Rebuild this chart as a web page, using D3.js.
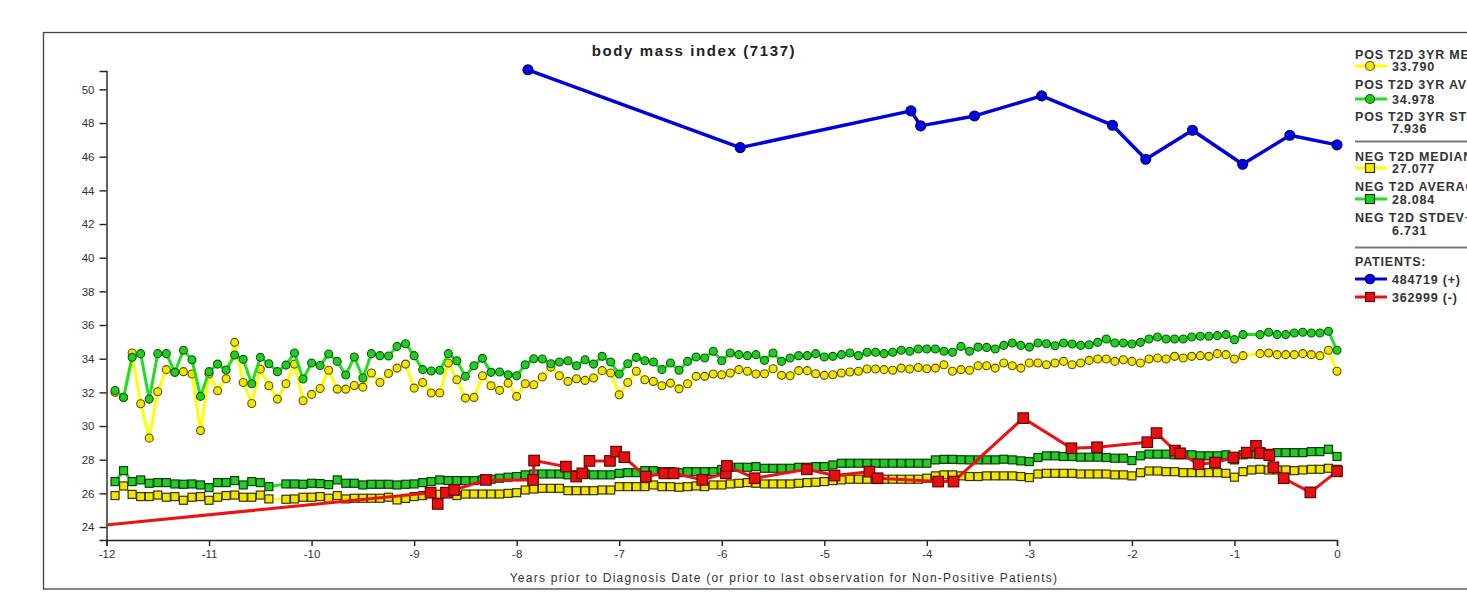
<!DOCTYPE html>
<html><head><meta charset="utf-8">
<script src="https://cdn.jsdelivr.net/npm/d3@7"></script>
<style>
body{margin:0;background:#fff;}
svg{display:block;}
text{font-family:Arial,"Liberation Sans",sans-serif;}
</style>
</head><body>
<svg id="c" width="1467" height="592"></svg>
<script>
// ---------- data ----------
const monthOffsets = d3.range(-143, 1); // monthly points, in months before diagnosis
const xTicks = [-12,-11,-10,-9,-8,-7,-6,-5,-4,-3,-2,-1,0];
const yTicks = [24,26,28,30,32,34,36,38,40,42,44,46,48,50];

const posMedian = [32.00,31.70,34.34,31.32,29.28,32.04,33.35,33.19,33.23,33.09,
29.73,33.10,32.10,32.81,34.97,32.59,31.34,33.38,32.39,31.60,
32.51,33.68,31.50,31.88,32.23,33.31,32.19,32.19,32.41,32.31,
33.15,32.59,33.12,33.44,33.68,32.25,32.59,31.96,31.96,33.74,
32.75,31.66,31.70,32.99,32.39,32.12,32.55,31.76,32.51,32.45,
32.91,33.50,32.99,32.65,32.81,32.71,32.85,33.29,33.15,31.86,
32.59,33.25,32.75,32.65,32.39,32.55,32.21,32.51,32.95,32.95,
33.09,33.05,33.15,33.35,33.25,33.09,33.11,33.40,33.01,32.99,
33.29,33.29,33.11,33.01,33.05,33.15,33.21,33.25,33.39,33.39,
33.35,33.31,33.44,33.39,33.48,33.40,33.44,33.64,33.25,33.35,
33.31,33.58,33.58,33.44,33.74,33.58,33.44,33.74,33.74,33.64,
33.74,33.84,33.64,33.74,33.90,33.98,33.98,33.84,33.94,33.84,
33.74,33.98,34.04,33.98,34.14,34.04,34.14,34.18,34.14,34.30,
34.24,33.98,34.18,null,34.30,34.34,34.24,34.24,34.24,34.30,
34.24,34.18,34.50,33.25];

const posAverage = [32.11,31.70,34.08,34.30,31.60,34.30,34.30,33.19,34.50,33.94,
31.76,33.23,33.68,33.33,34.22,33.96,32.51,34.08,33.70,33.23,
33.62,34.34,32.79,33.74,33.60,34.28,33.84,33.03,34.10,32.85,
34.30,34.18,34.16,34.73,34.89,34.18,33.35,33.27,33.31,34.30,
33.88,32.95,33.58,34.02,33.19,33.21,33.05,32.99,33.64,34.00,
33.98,33.70,33.80,33.88,33.58,33.94,33.68,34.14,33.80,33.09,
33.70,34.08,33.88,33.80,33.35,33.74,33.31,33.84,34.10,34.04,
34.44,33.88,34.34,34.24,34.18,34.24,33.90,34.34,33.84,34.04,
34.18,34.18,34.30,34.10,34.14,34.24,34.34,34.18,34.38,34.38,
34.30,34.38,34.50,34.44,34.58,34.58,34.58,34.44,34.38,34.73,
34.44,34.69,34.67,34.58,34.79,34.93,34.79,34.69,34.93,34.89,
34.77,34.93,34.87,34.79,34.83,34.97,35.17,34.93,34.93,34.87,
34.97,35.17,35.29,35.17,35.17,35.17,35.29,35.33,35.33,35.37,
35.43,35.13,35.43,null,35.43,35.57,35.43,35.43,35.53,35.57,
35.53,35.53,35.63,34.50];

const negMedian = [25.87,26.44,25.94,25.81,25.81,25.90,25.77,25.81,25.59,25.77,
25.81,25.59,25.77,25.87,25.90,25.77,25.77,25.90,25.67,null,
25.65,25.67,25.77,25.77,25.81,25.71,25.87,25.67,25.71,25.71,
25.71,25.71,25.77,25.61,25.70,25.81,25.87,26.00,25.95,26.00,
25.87,25.96,25.96,25.96,25.96,25.96,26.00,26.04,26.20,26.26,
26.30,26.30,26.30,26.16,26.16,26.16,26.16,26.20,26.20,26.40,
26.40,26.40,26.40,26.50,26.40,26.40,26.36,26.40,26.44,26.40,
26.50,26.50,26.56,26.60,26.64,26.60,26.56,26.56,26.56,26.56,
26.60,26.64,26.66,26.70,26.76,26.80,26.84,26.84,26.84,26.84,
26.84,26.84,26.84,26.84,26.84,26.90,27.04,27.10,27.10,27.04,
27.00,27.00,27.04,27.04,27.04,27.04,27.00,26.94,27.15,27.19,
27.19,27.19,27.19,27.15,27.15,27.15,27.15,27.10,27.10,27.04,
27.23,27.33,27.33,27.29,27.29,27.23,27.23,27.23,27.23,27.23,
27.19,26.96,27.29,27.39,27.43,27.39,27.39,27.39,27.35,27.39,
27.43,27.43,27.49,27.43];

const negAverage = [26.70,27.35,26.70,26.80,26.60,26.64,26.64,26.56,26.54,26.56,
26.50,26.34,26.64,26.64,26.76,26.50,26.70,26.64,26.40,null,
26.56,26.56,26.54,26.60,26.58,26.52,26.80,26.60,26.60,26.50,
26.54,26.54,26.54,26.50,26.54,26.56,26.64,26.70,26.80,26.76,
26.76,26.76,26.76,26.80,26.84,26.90,26.96,27.00,27.10,27.15,
27.15,27.15,27.15,27.10,27.10,27.15,27.10,27.10,27.10,27.19,
27.23,27.23,27.35,27.35,27.29,27.29,27.23,27.29,27.29,27.29,
27.29,27.42,27.55,27.55,27.55,27.59,27.49,27.49,27.49,27.49,
27.55,27.55,27.59,27.59,27.69,27.79,27.79,27.79,27.79,27.79,
27.79,27.79,27.79,27.79,27.79,27.79,27.99,28.02,28.02,28.00,
27.99,27.99,27.99,27.99,28.03,27.99,27.93,27.89,28.13,28.23,
28.23,28.19,28.19,28.15,28.15,28.15,28.13,28.09,28.09,27.95,
28.23,28.33,28.33,28.33,28.29,28.29,28.29,28.23,28.23,28.23,
28.29,27.99,28.29,28.35,28.48,28.38,28.42,28.42,28.42,28.42,
28.48,28.48,28.62,28.19];

// patient 484719 (+)
const posPatientYears = [-7.89,-5.82,-4.155,-4.06,-3.535,-2.88,-2.19,-1.865,-1.41,-0.92,-0.46,0.0];
const posPatientBMI   = [51.16,46.54,48.72,47.83,48.42,49.61,47.87,45.85,47.57,45.55,47.27,46.70];

// patient 362999 (-)  (first point lies before the visible window)
const negPatientYears = [-13.0,-8.84,-8.77,-8.69,-8.61,-8.30,-7.84,-7.83,-7.52,-7.42,-7.36,-7.29,-7.09,-7.03,-6.95,
  -6.74,-6.56,-6.47,-6.19,-5.96,-5.95,-5.68,-5.17,-4.90,-4.56,-4.48,-3.89,-3.74,-3.06,-2.59,-2.34,
  -1.85,-1.76,-1.58,-1.53,-1.35,-1.19,-1.01,-0.88,-0.79,-0.75,-0.66,-0.62,-0.52,-0.26,0.0];
const negPatientBMI = [23.51,26.04,25.37,26.04,26.20,26.80,26.80,27.95,27.59,27.00,27.19,27.93,27.93,28.48,28.15,
  27.00,27.19,27.19,26.80,27.19,27.63,26.90,27.43,27.06,27.29,26.90,26.70,26.70,30.47,28.68,28.74,
  29.04,29.58,28.54,28.38,27.73,27.83,28.13,28.42,28.82,28.38,28.27,27.55,26.90,26.06,27.31];

const legendStats = ["33.790","34.978","7.936","27.077","28.084","6.731"];
const patientIds = ["484719 (+)","362999 (-)"];

// ---------- drawing ----------
const svg = d3.select("#c");
const x = d3.scaleLinear().domain([-12, 0]).range([106.5, 1337]);
const y = d3.scaleLinear().domain([23.23, 51.09]).range([540, 71]);

svg.append("rect").attr("x",43.5).attr("y",32.5).attr("width",1500).attr("height",556.5)
  .attr("fill","#fff").attr("stroke","#444").attr("stroke-width",1.3);

svg.append("text").attr("x",694).attr("y",56).attr("text-anchor","middle")
  .attr("font-size",15).attr("font-weight","bold").attr("fill","#222")
  .attr("letter-spacing","1.6px")
  .text("body mass index (7137)");

const yAxis = svg.append("g").attr("transform","translate(106.5,0)")
  .call(d3.axisLeft(y).tickValues(yTicks).tickSize(7).tickSizeOuter(7).tickPadding(5).tickFormat(d=>String(d)));
const xAxis = svg.append("g").attr("transform","translate(0,540)")
  .call(d3.axisBottom(x).tickValues(xTicks).tickSize(6).tickSizeOuter(6).tickPadding(4).tickFormat(d=>String(d)));
[yAxis,xAxis].forEach(a=>{
  a.selectAll("path,line").attr("stroke","#222").attr("stroke-width",1.4);
  a.selectAll("text").attr("font-size",11.5).attr("fill","#333").attr("font-family","Arial, 'Liberation Sans', sans-serif");
});

svg.append("text").attr("x",784).attr("y",582).attr("text-anchor","middle")
  .attr("font-size",12).attr("fill","#333").attr("letter-spacing","1.25px")
  .text("Years prior to Diagnosis Date (or prior to last observation for Non-Positive Patients)");

svg.append("clipPath").attr("id","plot").append("rect")
  .attr("x",106.5).attr("y",55).attr("width",1245).attr("height",490);

const plot = svg.append("g").attr("clip-path","url(#plot)");

function monthSeries(vals){
  return monthOffsets.map((m,i)=>({t:m/12, v:vals[i]})).filter(d=>d.v!=null);
}
const line = d3.line().x(d=>x(d.t)).y(d=>y(d.v));

function drawSeries(data, color, lw, shape, size, fill, stroke){
  plot.append("path").datum(data).attr("d",line).attr("fill","none")
    .attr("stroke",color).attr("stroke-width",lw).attr("stroke-linejoin","round");
  const g = plot.append("g");
  if(shape==="circle"){
    g.selectAll("circle").data(data).join("circle")
      .attr("cx",d=>x(d.t)).attr("cy",d=>y(d.v)).attr("r",size)
      .attr("fill",fill).attr("stroke",stroke).attr("stroke-width",1.1);
  } else {
    g.selectAll("rect").data(data).join("rect")
      .attr("x",d=>x(d.t)-size/2).attr("y",d=>y(d.v)-size/2)
      .attr("width",size).attr("height",size)
      .attr("fill",fill).attr("stroke",stroke).attr("stroke-width",1.2);
  }
}

const YEL="#ffff00", YELF="#f2e600", GRN="#22dd22", GRNF="#22cc22";
drawSeries(monthSeries(posMedian), YEL, 3, "circle", 4, YELF, "#5a5200");
drawSeries(monthSeries(posAverage), GRN, 3, "circle", 4, GRNF, "#0d5a0d");
drawSeries(monthSeries(negMedian), YEL, 3, "square", 8, YELF, "#3a3500");
drawSeries(monthSeries(negAverage), GRN, 3, "square", 8, GRNF, "#0c3d0c");

const negPat = negPatientYears.map((t,i)=>({t, v:negPatientBMI[i]}));
drawSeries(negPat, "#ee1111", 3, "square", 10.5, "#e51010", "#6a0000");
const posPat = posPatientYears.map((t,i)=>({t, v:posPatientBMI[i]}));
drawSeries(posPat, "#0000dd", 3.5, "circle", 5, "#0000e6", "#00005a");

// ---------- legend ----------
const lg = svg.append("g").attr("font-size",12.5).attr("font-weight","bold")
  .attr("fill","#333").attr("letter-spacing","0.8px");
const lx = 1355;
function lgText(t, yy, xx){ lg.append("text").attr("x",xx||lx).attr("y",yy).text(t); }
function lgSym(yy, color, shape, fill, stroke, size){
  lg.append("line").attr("x1",lx).attr("x2",lx+32).attr("y1",yy).attr("y2",yy)
    .attr("stroke",color).attr("stroke-width",3);
  if(shape==="circle") lg.append("circle").attr("cx",lx+15).attr("cy",yy).attr("r",size)
    .attr("fill",fill).attr("stroke",stroke).attr("stroke-width",1.1);
  else lg.append("rect").attr("x",lx+15-size/2).attr("y",yy-size/2).attr("width",size).attr("height",size)
    .attr("fill",fill).attr("stroke",stroke).attr("stroke-width",1.2);
}
lgText("POS T2D 3YR MEDIAN", 58.5);
lgSym(66, YEL, "circle", YELF, "#5a5200", 4.5); lgText(legendStats[0], 70.5, 1392);
lgText("POS T2D 3YR AVERAGE", 88.5);
lgSym(99, GRN, "circle", GRNF, "#0d5a0d", 4.5); lgText(legendStats[1], 103.5, 1392);
lgText("POS T2D 3YR STDEV+-", 120.5);
lgText(legendStats[2], 133, 1392);
svg.append("line").attr("x1",lx).attr("x2",1467).attr("y1",141.5).attr("y2",141.5).attr("stroke","#777").attr("stroke-width",2);
lgText("NEG T2D MEDIAN", 161);
lgSym(168, YEL, "square", YELF, "#3a3500", 9); lgText(legendStats[3], 173, 1392);
lgText("NEG T2D AVERAGE", 191);
lgSym(199, GRN, "square", GRNF, "#0c3d0c", 9); lgText(legendStats[4], 204, 1392);
lgText("NEG T2D STDEV+-", 222);
lgText(legendStats[5], 235, 1392);
svg.append("line").attr("x1",lx).attr("x2",1467).attr("y1",247.5).attr("y2",247.5).attr("stroke","#777").attr("stroke-width",2);
lgText("PATIENTS:", 266);
lgSym(279, "#0000dd", "circle", "#0000e6", "#00005a", 4.8); lgText(patientIds[0], 284, 1392);
lgSym(297, "#ee1111", "square", "#e51010", "#6a0000", 9); lgText(patientIds[1], 302, 1392);
</script>
</body></html>
